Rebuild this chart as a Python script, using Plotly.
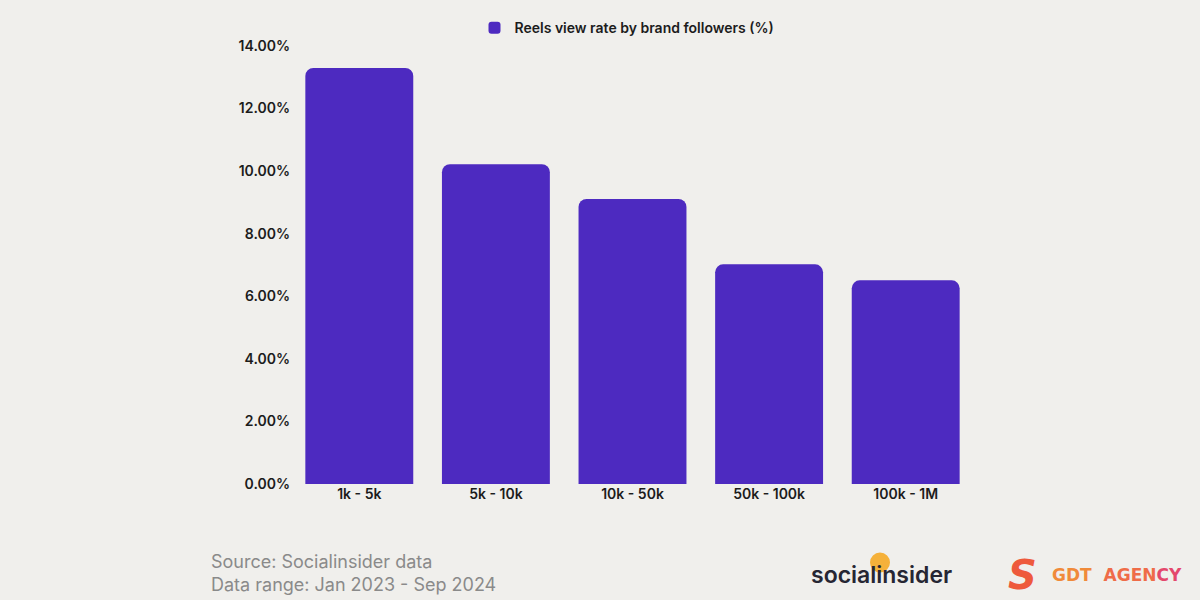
import plotly.graph_objects as go

categories = ["1k - 5k", "5k - 10k", "10k - 50k", "50k - 100k", "100k - 1M"]
view_rate = [13.3, 10.22, 9.11, 7.02, 6.51]
series_name = "Reels view rate by brand followers (%)"
tick_vals = [0, 2, 4, 6, 8, 10, 12, 14]
tick_text = ["0.00%", "2.00%", "4.00%", "6.00%", "8.00%", "10.00%", "12.00%", "14.00%"]

BG = "#f0efec"
PURPLE = "#4d2ac0"
DARK = "#1c1c1c"

# plot area in pixels (for placing footer items)
L, R, T, B = 291, 974, 43, 484


def px(x):
    return (x - L) / (R - L)


def py(y):
    return (B - y) / (B - T)


fig = go.Figure()
fig.add_trace(go.Bar(
    x=categories, y=view_rate, name=series_name,
    marker=dict(color=PURPLE, cornerradius=8, line=dict(width=0)),
    showlegend=True,
))

fig.update_layout(
    width=1200, height=600,
    paper_bgcolor=BG, plot_bgcolor=BG,
    margin=dict(l=L, r=1200 - R, t=T, b=600 - B),
    bargap=0.21,
    showlegend=True,
    legend=dict(orientation="h", x=px(627), xanchor="center", y=py(25), yanchor="middle",
                font=dict(family="Inter", size=14, weight=600, color=DARK),
                bgcolor="rgba(0,0,0,0)"),
    xaxis=dict(showgrid=False, zeroline=False, showline=False, ticks="",
               tickfont=dict(family="Inter", size=14, weight=600, color=DARK)),
    yaxis=dict(range=[0, 14], tickvals=tick_vals, ticktext=tick_text,
               showgrid=False, zeroline=False, showline=False, ticks="",
               tickfont=dict(family="Inter", size=14, weight=600, color=DARK)),
    font=dict(family="Inter"),
)

# source notes
fig.add_annotation(xref="paper", yref="paper", x=px(209), y=py(562), xanchor="left", yanchor="middle",
                   text="Source: Socialinsider data", showarrow=False,
                   font=dict(family="Inter", size=18, color="#8a8a8a"))
fig.add_annotation(xref="paper", yref="paper", x=px(209), y=py(585), xanchor="left", yanchor="middle",
                   text="Data range: Jan 2023 - Sep 2024", showarrow=False,
                   font=dict(family="Inter", size=18, color="#8a8a8a"))

# socialinsider logo
fig.add_shape(type="circle", xref="paper", yref="paper",
              x0=px(870), x1=px(890), y0=py(553), y1=py(573),
              fillcolor="#f5b13a", line=dict(width=0), layer="below")
fig.add_annotation(xref="paper", yref="paper", x=px(809), y=py(576), xanchor="left", yanchor="middle",
                   text="socialinsider", showarrow=False,
                   font=dict(family="Inter", size=23, weight=600, color="#262633"))

# GDT agency logo
fig.add_annotation(xref="paper", yref="paper", x=px(1022), y=py(576), xanchor="center", yanchor="middle",
                   text="<i><b>S</b></i>", showarrow=False,
                   font=dict(family="DejaVu Sans", size=40, color="#ee5a3c"))
fig.add_annotation(xref="paper", yref="paper", x=px(1050), y=py(576), xanchor="left", yanchor="middle",
                   text="<span style='color:#f08a3a'>GDT</span>  "
                        "<span style='color:#ef6c48'>AGEN</span><span style='color:#e4486c'>CY</span>",
                   showarrow=False,
                   font=dict(family="DejaVu Sans", size=17, weight=600, color="#ef7a3c"))

fig.write_html("out.html", config={"displayModeBar": False},
               post_script="document.body.style.margin='0';"
                           "document.body.style.background='" + BG + "';")
